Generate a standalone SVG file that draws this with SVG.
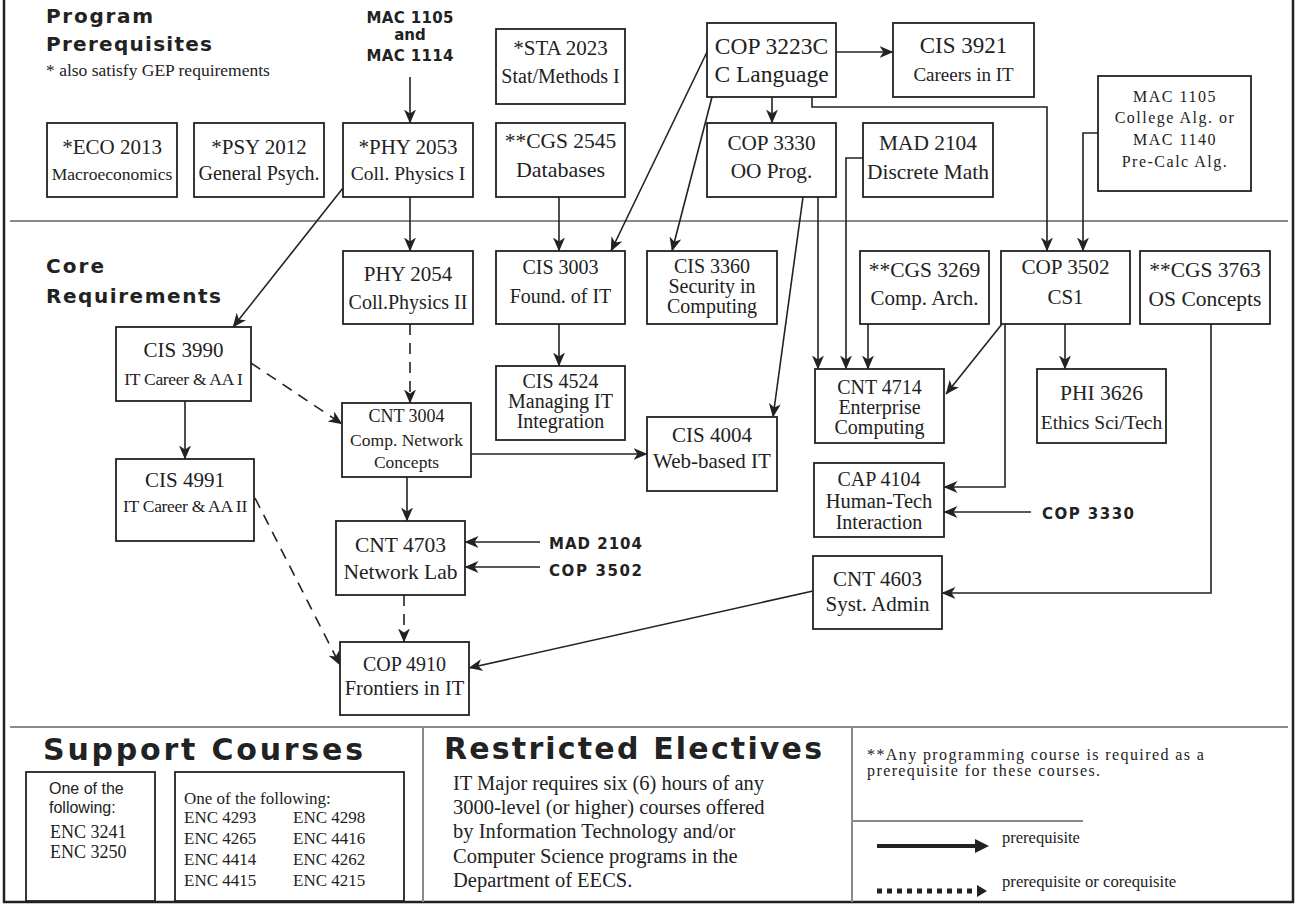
<svg xmlns="http://www.w3.org/2000/svg" width="1298" height="904" viewBox="0 0 1298 904">
<defs>
<style>
.bx{fill:#fff;stroke:#222;stroke-width:1.8}
.t{font-family:"Liberation Serif","Times New Roman",serif;fill:#222;text-anchor:middle}
.h{font-family:"DejaVu Sans","Liberation Sans",sans-serif;font-weight:bold;fill:#222}
.lb{font-family:"DejaVu Sans","Liberation Sans",sans-serif;font-weight:bold;fill:#222;font-size:15px}
.c{fill:none;stroke:#222;stroke-width:1.6}
.d{fill:none;stroke:#222;stroke-width:1.6;stroke-dasharray:11 8}
.sep{stroke:#8a8a8a;stroke-width:2;fill:none}
.p{font-family:"Liberation Serif","Times New Roman",serif;fill:#222}
</style>
<marker id="ah" markerUnits="userSpaceOnUse" markerWidth="14" markerHeight="12" viewBox="0 0 14 12" refX="13.5" refY="6" orient="auto">
<path d="M0,0 L14,6 L0,12 L4,6 z" fill="#222"/>
</marker>
</defs>
<rect x="0" y="0" width="1298" height="904" fill="#fff"/>
<g id="frame">
<path d="M4,0 V902 H1293 V0" fill="none" stroke="#222" stroke-width="2.5"/>
<line class="sep" x1="10" y1="221" x2="1288" y2="221"/>
<line class="sep" x1="10" y1="727" x2="1288" y2="727"/>
<line class="sep" x1="423" y1="727" x2="423" y2="902"/>
<line class="sep" x1="852" y1="727" x2="852" y2="902"/>
<line class="sep" x1="852" y1="821" x2="1083" y2="821"/>
</g>
<g id="headings">
<text class="h" x="46" y="23" font-size="20" textLength="107" lengthAdjust="spacing">Program</text>
<text class="h" x="46" y="51" font-size="20" textLength="166" lengthAdjust="spacing">Prerequisites</text>
<text class="p" x="46" y="76" font-size="17.5">* also satisfy GEP requirements</text>
<text class="h" x="46" y="273" font-size="20" textLength="58" lengthAdjust="spacing">Core</text>
<text class="h" x="46" y="303" font-size="20" textLength="175" lengthAdjust="spacing">Requirements</text>
<text class="h" x="43" y="760" font-size="30" textLength="320" lengthAdjust="spacing">Support Courses</text>
<text class="h" x="444" y="759" font-size="30" textLength="378" lengthAdjust="spacing">Restricted Electives</text>
</g>
<g id="labels">
<text class="lb" x="410" y="23" text-anchor="middle" textLength="87" lengthAdjust="spacing">MAC 1105</text>
<text class="lb" x="410" y="40" text-anchor="middle" font-size="13">and</text>
<text class="lb" x="410" y="61" text-anchor="middle" textLength="87" lengthAdjust="spacing">MAC 1114</text>
<text class="lb" x="549" y="549" textLength="93" lengthAdjust="spacing">MAD 2104</text>
<text class="lb" x="549" y="576" textLength="93" lengthAdjust="spacing">COP 3502</text>
<text class="lb" x="1042" y="519" textLength="92" lengthAdjust="spacing">COP 3330</text>
</g>
<g id="connectors">
<line class="c" x1="410" y1="77" x2="410" y2="123" marker-end="url(#ah)"/>
<line class="c" x1="410" y1="197" x2="410" y2="251" marker-end="url(#ah)"/>
<line class="c" x1="343" y1="188" x2="233" y2="327" marker-end="url(#ah)"/>
<line class="c" x1="559" y1="197" x2="559" y2="251" marker-end="url(#ah)"/>
<line class="c" x1="707" y1="52" x2="611" y2="251" marker-end="url(#ah)"/>
<line class="c" x1="712" y1="97" x2="672" y2="251" marker-end="url(#ah)"/>
<line class="c" x1="836" y1="52" x2="893" y2="52" marker-end="url(#ah)"/>
<line class="c" x1="772" y1="97" x2="772" y2="123" marker-end="url(#ah)"/>
<path class="c" d="M812,97 V107 H1047 V251" marker-end="url(#ah)"/>
<path class="c" d="M1098,133 H1083 V251" marker-end="url(#ah)"/>
<line class="c" x1="803" y1="197" x2="773" y2="417" marker-end="url(#ah)"/>
<line class="c" x1="818" y1="197" x2="818" y2="369" marker-end="url(#ah)"/>
<path class="c" d="M863,158 H846 V369" marker-end="url(#ah)"/>
<line class="c" x1="868" y1="324" x2="868" y2="369" marker-end="url(#ah)"/>
<line class="c" x1="1002" y1="324" x2="946" y2="394" marker-end="url(#ah)"/>
<line class="c" x1="1065" y1="324" x2="1065" y2="369" marker-end="url(#ah)"/>
<path class="c" d="M1005,324 V487 H944" marker-end="url(#ah)"/>
<line class="c" x1="1031" y1="512" x2="944" y2="512" marker-end="url(#ah)"/>
<path class="c" d="M1211,324 V593 H942" marker-end="url(#ah)"/>
<line class="c" x1="813" y1="591" x2="469" y2="668" marker-end="url(#ah)"/>
<line class="c" x1="559" y1="324" x2="559" y2="366" marker-end="url(#ah)"/>
<line class="d" x1="410" y1="324" x2="410" y2="403" marker-end="url(#ah)"/>
<line class="d" x1="251" y1="363" x2="342" y2="424" marker-end="url(#ah)"/>
<line class="c" x1="185" y1="401" x2="185" y2="459" marker-end="url(#ah)"/>
<line class="c" x1="407" y1="477" x2="407" y2="521" marker-end="url(#ah)"/>
<line class="c" x1="471" y1="454" x2="647" y2="454" marker-end="url(#ah)"/>
<line class="c" x1="540" y1="542" x2="465" y2="542" marker-end="url(#ah)"/>
<line class="c" x1="540" y1="567" x2="465" y2="567" marker-end="url(#ah)"/>
<line class="d" x1="404" y1="595" x2="404" y2="642" marker-end="url(#ah)"/>
<line class="d" x1="255" y1="498" x2="340" y2="665" marker-end="url(#ah)"/>
</g>
<g id="eco2013"><rect class="bx" x="47" y="123" width="130" height="74"/><text class="t" x="112" y="154" font-size="21">*ECO 2013</text><text class="t" x="112" y="180" font-size="17.5">Macroeconomics</text></g>
<g id="psy2012"><rect class="bx" x="194" y="123" width="130" height="74"/><text class="t" x="259" y="154" font-size="21">*PSY 2012</text><text class="t" x="259" y="180" font-size="20">General Psych.</text></g>
<g id="phy2053"><rect class="bx" x="343" y="123" width="130" height="74"/><text class="t" x="408" y="154" font-size="21">*PHY 2053</text><text class="t" x="408" y="180" font-size="19.5">Coll. Physics I</text></g>
<g id="sta2023"><rect class="bx" x="496" y="29" width="129" height="75"/><text class="t" x="560.5" y="55" font-size="21">*STA 2023</text><text class="t" x="560.5" y="83" font-size="20">Stat/Methods I</text></g>
<g id="cgs2545"><rect class="bx" x="496" y="123" width="129" height="74"/><text class="t" x="560.5" y="148" font-size="21.5">**CGS 2545</text><text class="t" x="560.5" y="177" font-size="22">Databases</text></g>
<g id="cop3223c"><rect class="bx" x="707" y="23" width="129" height="74"/><text class="t" x="771.5" y="54" font-size="23.5">COP 3223C</text><text class="t" x="771.5" y="82" font-size="23.5">C Language</text></g>
<g id="cis3921"><rect class="bx" x="893" y="23" width="141" height="74"/><text class="t" x="963.5" y="53" font-size="23">CIS 3921</text><text class="t" x="963.5" y="81" font-size="19">Careers in IT</text></g>
<g id="cop3330"><rect class="bx" x="707" y="123" width="129" height="74"/><text class="t" x="771.5" y="150" font-size="21.2">COP 3330</text><text class="t" x="771.5" y="178" font-size="21.3">OO Prog.</text></g>
<g id="mad2104"><rect class="bx" x="863" y="123" width="130" height="74"/><text class="t" x="928" y="150" font-size="21.4">MAD 2104</text><text class="t" x="928" y="179" font-size="21.4">Discrete Math</text></g>
<g id="mac1105"><rect class="bx" x="1098" y="76" width="153" height="115"/><text class="t" x="1175" y="102" font-size="16" letter-spacing="1.5">MAC 1105</text><text class="t" x="1175" y="123" font-size="16" letter-spacing="1.5">College Alg. or</text><text class="t" x="1175" y="145" font-size="16" letter-spacing="1.5">MAC 1140</text><text class="t" x="1175" y="167" font-size="16" letter-spacing="1.5">Pre-Calc Alg.</text></g>
<g id="phy2054"><rect class="bx" x="343" y="251" width="130" height="73"/><text class="t" x="408" y="281" font-size="21">PHY 2054</text><text class="t" x="408" y="309" font-size="20">Coll.Physics II</text></g>
<g id="cis3003"><rect class="bx" x="496" y="251" width="129" height="73"/><text class="t" x="560.5" y="274" font-size="20">CIS 3003</text><text class="t" x="560.5" y="303" font-size="20">Found. of IT</text></g>
<g id="cis3360"><rect class="bx" x="647" y="251" width="130" height="73"/><text class="t" x="712" y="273" font-size="20">CIS 3360</text><text class="t" x="712" y="293" font-size="20">Security in</text><text class="t" x="712" y="313" font-size="20">Computing</text></g>
<g id="cgs3269"><rect class="bx" x="860" y="251" width="129" height="73"/><text class="t" x="924.5" y="277" font-size="21.5">**CGS 3269</text><text class="t" x="924.5" y="305" font-size="21">Comp. Arch.</text></g>
<g id="cop3502"><rect class="bx" x="1001" y="251" width="129" height="73"/><text class="t" x="1065.5" y="274" font-size="21.2">COP 3502</text><text class="t" x="1065.5" y="304" font-size="21">CS1</text></g>
<g id="cgs3763"><rect class="bx" x="1140" y="251" width="130" height="73"/><text class="t" x="1205" y="277" font-size="21.5">**CGS 3763</text><text class="t" x="1205" y="306" font-size="21.5">OS Concepts</text></g>
<g id="cis3990"><rect class="bx" x="116" y="327" width="135" height="74"/><text class="t" x="183.5" y="357" font-size="21">CIS 3990</text><text class="t" x="183.5" y="385" font-size="17.5" letter-spacing="-0.3">IT Career &amp; AA I</text></g>
<g id="cis4991"><rect class="bx" x="116" y="459" width="138" height="82"/><text class="t" x="185" y="487" font-size="21">CIS 4991</text><text class="t" x="185" y="512" font-size="17.5" letter-spacing="-0.3">IT Career &amp; AA II</text></g>
<g id="cnt3004"><rect class="bx" x="342" y="403" width="129" height="74"/><text class="t" x="406.5" y="422" font-size="18">CNT 3004</text><text class="t" x="406.5" y="446" font-size="17.5">Comp. Network</text><text class="t" x="406.5" y="468" font-size="17.5">Concepts</text></g>
<g id="cis4524"><rect class="bx" x="496" y="366" width="129" height="74"/><text class="t" x="560.5" y="388" font-size="20">CIS 4524</text><text class="t" x="560.5" y="408" font-size="20">Managing IT</text><text class="t" x="560.5" y="428" font-size="20">Integration</text></g>
<g id="cis4004"><rect class="bx" x="647" y="417" width="130" height="74"/><text class="t" x="712" y="442" font-size="21">CIS 4004</text><text class="t" x="712" y="468" font-size="21">Web-based IT</text></g>
<g id="cnt4714"><rect class="bx" x="815" y="369" width="129" height="74"/><text class="t" x="879.5" y="394" font-size="20">CNT 4714</text><text class="t" x="879.5" y="414" font-size="20">Enterprise</text><text class="t" x="879.5" y="434" font-size="20">Computing</text></g>
<g id="phi3626"><rect class="bx" x="1037" y="369" width="129" height="74"/><text class="t" x="1101.5" y="400" font-size="21.5">PHI 3626</text><text class="t" x="1101.5" y="429" font-size="19.5">Ethics Sci/Tech</text></g>
<g id="cap4104"><rect class="bx" x="814" y="463" width="130" height="74"/><text class="t" x="879" y="486" font-size="20">CAP 4104</text><text class="t" x="879" y="508" font-size="20.5">Human-Tech</text><text class="t" x="879" y="529" font-size="20">Interaction</text></g>
<g id="cnt4603"><rect class="bx" x="813" y="556" width="129" height="73"/><text class="t" x="877.5" y="586" font-size="21">CNT 4603</text><text class="t" x="877.5" y="611" font-size="21">Syst. Admin</text></g>
<g id="cnt4703"><rect class="bx" x="336" y="521" width="129" height="74"/><text class="t" x="400.5" y="552" font-size="21.5">CNT 4703</text><text class="t" x="400.5" y="579" font-size="21.5">Network Lab</text></g>
<g id="cop4910"><rect class="bx" x="340" y="642" width="129" height="73"/><text class="t" x="404.5" y="671" font-size="20">COP 4910</text><text class="t" x="404.5" y="695" font-size="20.5">Frontiers in IT</text></g>
<g id="support1"><rect class="bx" x="26" y="772" width="129" height="129"/>
<text x="49" y="794" font-family="Liberation Sans, Arial, sans-serif" font-size="16" fill="#222">One of the</text>
<text x="49" y="813" font-family="Liberation Sans, Arial, sans-serif" font-size="16" fill="#222">following:</text>
<text class="p" x="50" y="838" font-size="18">ENC 3241</text>
<text class="p" x="50" y="858" font-size="18">ENC 3250</text></g>
<g id="support2"><rect class="bx" x="175" y="772" width="229" height="129"/>
<text class="p" x="184" y="804" font-size="17">One of the following:</text>
<text class="p" x="184" y="823" font-size="17">ENC 4293</text><text class="p" x="293" y="823" font-size="17">ENC 4298</text>
<text class="p" x="184" y="844" font-size="17">ENC 4265</text><text class="p" x="293" y="844" font-size="17">ENC 4416</text>
<text class="p" x="184" y="865" font-size="17">ENC 4414</text><text class="p" x="293" y="865" font-size="17">ENC 4262</text>
<text class="p" x="184" y="886" font-size="17">ENC 4415</text><text class="p" x="293" y="886" font-size="17">ENC 4215</text></g>
<g id="electives">
<text class="p" x="453" y="790" font-size="20.5">IT Major requires six (6) hours of any</text>
<text class="p" x="453" y="814" font-size="20.5">3000-level (or higher) courses offered</text>
<text class="p" x="453" y="838" font-size="20.5">by Information Technology and/or</text>
<text class="p" x="453" y="863" font-size="20.5">Computer Science programs in the</text>
<text class="p" x="453" y="887" font-size="20.5">Department of EECS.</text>
</g>
<g id="legend">
<text class="p" x="867" y="760" font-size="16" letter-spacing="1.4">**Any programming course is required as a</text>
<text class="p" x="867" y="776" font-size="16" letter-spacing="1.4">prerequisite for these courses.</text>
<line x1="877" y1="846" x2="978" y2="846" stroke="#222" stroke-width="4"/>
<polygon points="975,839 989,846 975,853" fill="#222"/>
<text class="p" x="1002" y="843" font-size="16.5">prerequisite</text>
<line x1="877" y1="891" x2="975" y2="891" stroke="#222" stroke-width="5" stroke-dasharray="5 5"/>
<polygon points="977,885 987,891 977,897" fill="#222"/>
<text class="p" x="1002" y="887" font-size="16.7">prerequisite or corequisite</text>
</g>
</svg>
